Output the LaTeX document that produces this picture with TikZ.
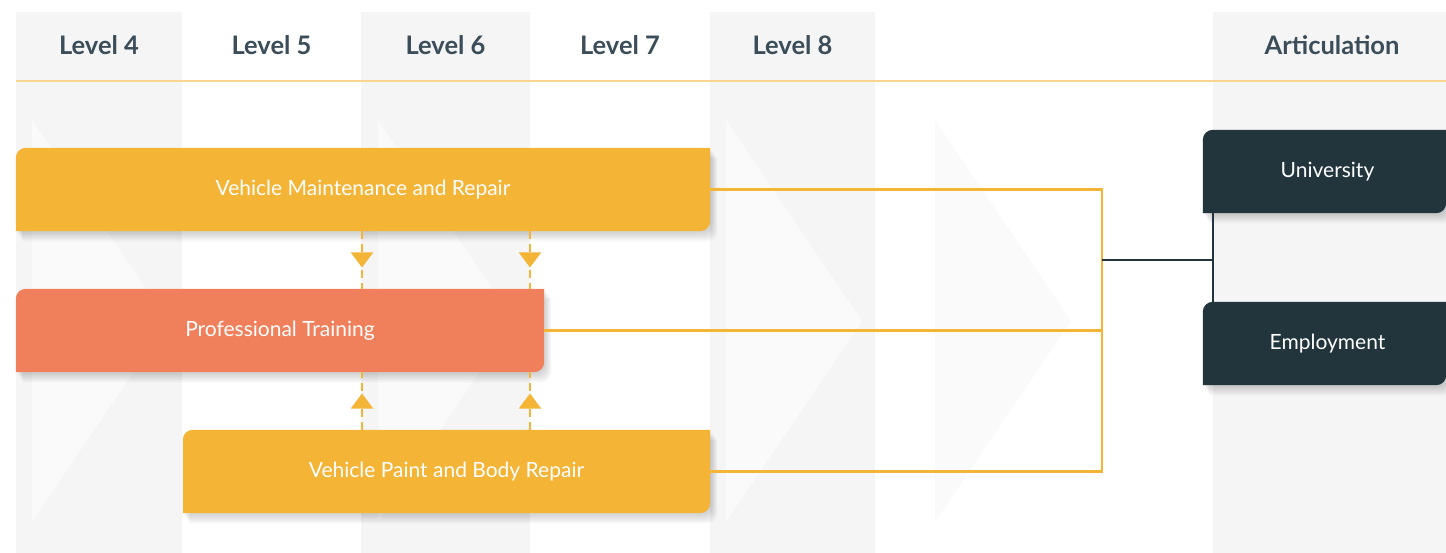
\documentclass[tikz,border=0pt]{standalone}
\usepackage{fontspec}
\setmainfont{Lato}
\usetikzlibrary{positioning,arrows.meta,decorations.markings}
\definecolor{amber}{HTML}{F4B436}
\definecolor{coral}{HTML}{F0805C}
\definecolor{navy}{HTML}{22343C}
\definecolor{slate}{HTML}{3B4D59}
\definecolor{column}{HTML}{F5F5F5}
\definecolor{chevron}{HTML}{FAFAFA}
\definecolor{rule}{HTML}{F8D68F}
\pgfdeclarelayer{bg}
\pgfdeclarelayer{cards}
\pgfsetlayers{bg,cards,main}
% card outline: rounded top left and bottom right only
\newcommand{\cardpath}[1]{(#1.south west) -- ([yshift=-10pt]#1.north west) arc[start angle=180,end angle=90,radius=10pt] -- (#1.north east) -- ([yshift=10pt]#1.south east) arc[start angle=0,end angle=-90,radius=10pt] -- cycle}
\newcommand{\card}[2]{%
  \foreach \s in {1,...,8}
    \fill[black, opacity=0.025, transform canvas={xshift=0.9*\s pt, yshift=-1.3*\s pt}] \cardpath{#1};
  \fill[#2] \cardpath{#1};}

\begin{document}
\begin{tikzpicture}[x=1pt,y=1pt,
  head/.style={text=slate, font=\fontsize{25.5}{30}\selectfont\bfseries},
  cardtext/.style={text=white, font=\fontsize{21}{25}\selectfont, minimum height=83pt, inner sep=0pt},
  feed/.style={amber, line width=2.8pt},
  tie/.style={navy, line width=2.8pt},
  link/.style={amber, line width=2pt, dash pattern=on 8pt off 5pt, postaction={decorate},
    decoration={markings, mark=at position 0.63 with {\arrow[solid]{Triangle[width=22pt,length=15pt]}}}}]
\useasboundingbox (0,0) rectangle (1446,553);

% columns and chevrons
\begin{pgfonlayer}{bg}
\foreach \a/\b in {16/182,361/530,710/875,1213/1446}
  \fill[column] (\a,0) rectangle (\b,541);
\foreach \a in {32,378,726,935}
  \fill[chevron] (\a,433) -- (\a+136,232) -- (\a,31) -- cycle;
\end{pgfonlayer}
\draw[rule, line width=2pt] (16,472) -- (1446,472);

% headers
\foreach \n/\x in {4/99,5/271.5,6/445.5,7/620,8/792.5}
  \node[head] (lv\n) at (\x,508) {Level \n};
\node[head] (art) at (1332,508) {Articulation};

% programmes
\node[cardtext, minimum width=694pt] (vmr) at (363,363.5) {Vehicle Maintenance and Repair};
\node[cardtext, minimum width=528pt] (pt) at (280,222.5) {Professional Training};
\node[cardtext, minimum width=527pt] (vpbr) at (446.5,81.5) {Vehicle Paint and Body Repair};
\node[cardtext, minimum width=243pt] (uni) at (1324.5,381.5) {\hspace{6pt}University};
\node[cardtext, minimum width=243pt] (emp) at (1324.5,209.5) {\hspace{6pt}Employment};
\begin{pgfonlayer}{cards}
\card{vmr}{amber}
\card{pt}{coral}
\card{vpbr}{amber}
\card{uni}{navy}
\card{emp}{navy}
\end{pgfonlayer}

% pathways
\coordinate (d1) at (362,0);
\coordinate (d2) at (530,0);
\draw[link] (vmr.south -| d1) -- (pt.north -| d1);
\draw[link] (vmr.south -| d2) -- (pt.north -| d2);
\draw[link] (vpbr.north -| d1) -- (pt.south -| d1);
\draw[link] (vpbr.north -| d2) -- (pt.south -| d2);

\coordinate (join) at (1102,293);
\coordinate (split) at (1213,293);
\draw[feed] (vmr.east) -| (join);
\draw[feed] (pt.east) -- (pt.east -| join);
\draw[feed] (vpbr.east) -| (join);
\draw[tie] (join) -- (split);
\draw[tie] (uni.south -| split) -- (emp.north -| split);
\end{tikzpicture}
\end{document}
